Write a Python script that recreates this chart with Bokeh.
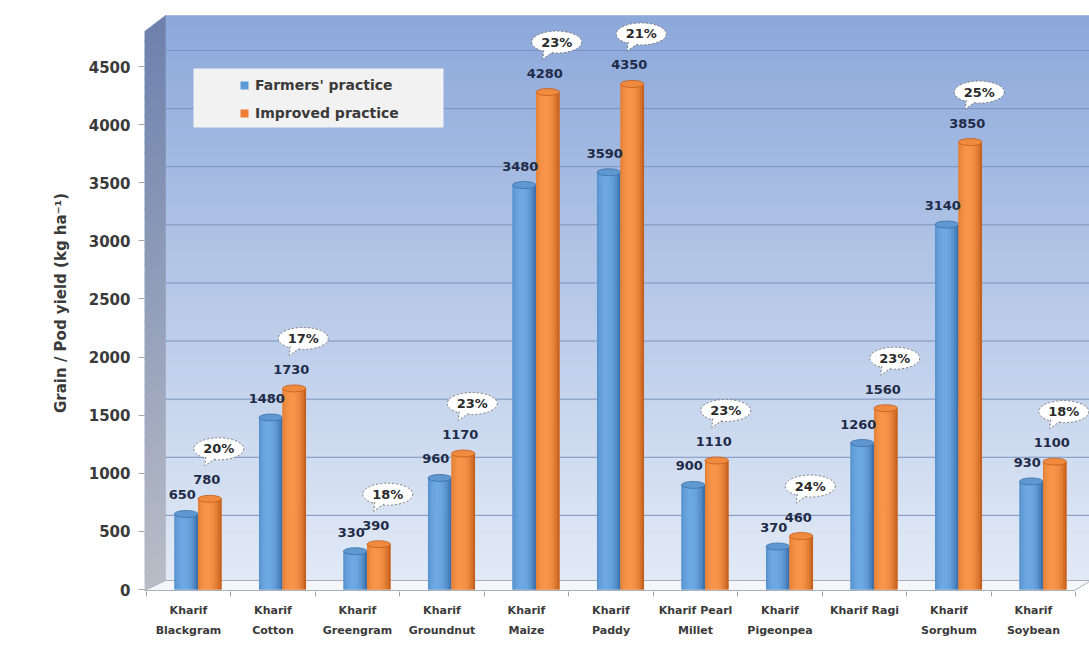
import math

from bokeh.plotting import figure
from bokeh.core.properties import value
from bokeh.models import FixedTicker, Legend, LegendItem, Range1d
from bokeh.embed import file_html
from bokeh.resources import INLINE

# ---------------------------------------------------------------- data
crops = [
    "Kharif\nBlackgram", "Kharif\nCotton", "Kharif\nGreengram", "Kharif\nGroundnut",
    "Kharif\nMaize", "Kharif\nPaddy", "Kharif Pearl\nMillet", "Kharif\nPigeonpea",
    "Kharif Ragi", "Kharif\nSorghum", "Kharif\nSoybean",
]
farmers_practice = [650, 1480, 330, 960, 3480, 3590, 900, 370, 1260, 3140, 930]
improved_practice = [780, 1730, 390, 1170, 4280, 4350, 1110, 460, 1560, 3850, 1100]
yield_gain_pct = [20, 17, 18, 23, 23, 21, 23, 24, 23, 25, 18]
y_ticks = [0, 500, 1000, 1500, 2000, 2500, 3000, 3500, 4000, 4500]

# ---------------------------------------------------------------- geometry
W, H = 1089, 669
F_LEFT, F_RIGHT, F_TOP, F_BOTTOM = 144, 1089, 14, 591   # frame in canvas px
X0_PX, Y0_PX = 188, 589                                 # where x=0 / y=0 fall
PX_X = 84.5                                             # px per category
PX_Y = 523 / 4500                                       # px per kg/ha


def dx(px):
    return px / PX_X


def dy(px):
    return px / PX_Y


def sx(px):
    return (px - X0_PX) / PX_X


def sy(px):
    return (Y0_PX - px) / PX_Y


def mix(c0, c1, t):
    return "#%02x%02x%02x" % tuple(round(a + (b - a) * t) for a, b in zip(c0, c1))


FONT = "DejaVu Sans"

p = figure(
    width=W, height=H,
    x_range=Range1d(sx(F_LEFT), sx(F_RIGHT)),
    y_range=Range1d(sy(F_BOTTOM), sy(F_TOP)),
    output_backend="svg", toolbar_location=None,
    min_border_left=F_LEFT, min_border_right=W - F_RIGHT,
    min_border_top=F_TOP, min_border_bottom=H - F_BOTTOM,
)
p.background_fill_color = "white"
p.border_fill_color = "white"
p.outline_line_color = None
p.xgrid.grid_line_color = None
p.ygrid.grid_line_color = None

# ---------------------------------------------------------------- 3D walls
# back wall: vertical gradient, dark blue at the top to pale blue at the floor
WALL_TOP, WALL_BOT, WALL_L = 15, 580, 165
nb = 60
overlap = dy(0.8)
top_c, bot_c = (0x8C, 0xA8, 0xDA), (0xE2, 0xEA, 0xF6)
bw_top, bw_bot, bw_col = [], [], []
for k in range(nb):
    y0 = WALL_TOP + (WALL_BOT - WALL_TOP) * k / nb
    y1 = WALL_TOP + (WALL_BOT - WALL_TOP) * (k + 1) / nb
    bw_top.append(sy(y0))
    bw_bot.append(sy(y1) - (overlap if k < nb - 1 else 0))
    c = mix(top_c, bot_c, (k + 0.5) / nb)
    bw_col.append(c)
p.quad(left=sx(WALL_L), right=sx(F_RIGHT), top=bw_top, bottom=bw_bot,
       fill_color=bw_col, line_color=bw_col, line_width=0.6)

# side wall: slanted panel on the left
side_xs, side_ys, side_col = [], [], []
s_top, s_bot = (0x6E, 0x82, 0xAE), (0xB8, 0xBC, 0xC6)
for k in range(nb):
    t0, t1 = k / nb, (k + 1) / nb
    fy0, fy1 = 31 + (590 - 31) * t0, 31 + (590 - 31) * t1
    by0, by1 = 15 + (580 - 15) * t0, 15 + (580 - 15) * t1
    ov = overlap if k < nb - 1 else 0
    side_xs.append([sx(F_LEFT), sx(WALL_L), sx(WALL_L), sx(F_LEFT)])
    side_ys.append([sy(fy0), sy(by0), sy(by1) - ov, sy(fy1) - ov])
    side_col.append(mix(s_top, s_bot, (k + 0.5) / nb))
p.patches(side_xs, side_ys, fill_color=side_col, line_color=side_col, line_width=0.6)

# back-wall gridlines (shifted up by the wall depth)
grid_y = [v + dy(16) for v in y_ticks[1:]]
p.multi_line(xs=[[sx(WALL_L), sx(F_RIGHT)] for _ in grid_y],
             ys=[[g, g] for g in grid_y], line_color="#7C93BE", line_width=1)

# floor
p.patch([sx(F_LEFT), sx(WALL_L), sx(F_RIGHT), sx(F_RIGHT), sx(1074)],
        [sy(590), sy(580), sy(580), sy(581), sy(590)],
        fill_color="#F4F6FA", line_color="#A9AEB8", line_width=1)

# ---------------------------------------------------------------- bars
bar_w = dx(23.5)
pair_shift = dx(9.5)
xb = [i + pair_shift - bar_w / 2 for i in range(len(crops))]
xo = [i + pair_shift + bar_w / 2 for i in range(len(crops))]


def cylinder(xs, values, base, dark, light, top_fill, top_line):
    body = p.vbar(x=xs, top=values, bottom=0, width=bar_w,
                  fill_color=base, line_color=None)
    ns = 12
    for k in range(ns):
        u = (k + 0.5) / ns * 2 - 1
        f = max(0.0, 1 - ((u + 0.2) / 1.2) ** 2)
        off = u * bar_w / 2
        p.vbar(x=[x + off for x in xs], top=values, bottom=0,
               width=bar_w / ns * 1.05, fill_color=mix(dark, light, f ** 0.8),
               line_color=None)
    p.ellipse(x=xs, y=values, width=bar_w, height=7, height_units="screen",
              fill_color=top_fill, line_color=top_line, line_width=0.8)
    return body


r_farm = cylinder(xb, farmers_practice, "#5B9BD5",
                  (0x2E, 0x62, 0x9E), (0x6E, 0xAA, 0xE4), "#5F98D0", "#3C70AA")
r_impr = cylinder(xo, improved_practice, "#ED7D31",
                  (0xB8, 0x55, 0x14), (0xF8, 0x97, 0x4A), "#F08A3E", "#C25E1C")

# ---------------------------------------------------------------- value labels
label_style = dict(text_font=value(FONT), text_font_style="bold",
                   text_font_size=value("13px"), text_color="#1F2B48",
                   text_align="center", text_baseline="middle")
p.text(x=xb, y=farmers_practice, text=[str(v) for v in farmers_practice],
       x_offset=-4, y_offset=-19, **label_style)
p.text(x=xo, y=improved_practice, text=[str(v) for v in improved_practice],
       x_offset=-3, y_offset=-19, **label_style)

# ---------------------------------------------------------------- % gain call-outs
bx = [x + dx(9) for x in xo]
by = [v + dy(50) for v in improved_practice]
p.ellipse(x=bx, y=by, width=50, height=22, width_units="screen", height_units="screen",
          fill_color="white", line_color="#7A7A7A", line_width=1, line_dash="2 2")
tail_xs = [[x + dx(-13), x + dx(-4), x + dx(-14)] for x in bx]
tail_ys = [[y - dy(8), y - dy(10), y - dy(17)] for y in by]
p.patches(tail_xs, tail_ys, fill_color="white", line_color=None)
p.multi_line(xs=[[t[0], t[2], t[1]] for t in tail_xs],
             ys=[[t[0], t[2], t[1]] for t in tail_ys],
             line_color="#7A7A7A", line_width=1, line_dash="2 2")
p.text(x=bx, y=by, text=[f"{v}%" for v in yield_gain_pct],
       text_font=value(FONT), text_font_style="bold", text_font_size=value("13px"),
       text_color="#2B2B2B", text_align="center", text_baseline="middle")

# ---------------------------------------------------------------- axes
p.yaxis.ticker = FixedTicker(ticks=y_ticks)
p.yaxis.axis_label = "Grain / Pod yield (kg ha\u207b\u00b9)"
p.yaxis.axis_label_text_font = FONT
p.yaxis.axis_label_text_font_style = "bold"
p.yaxis.axis_label_text_font_size = "15px"
p.yaxis.axis_label_text_color = "#3A3A3A"
p.yaxis.axis_label_standoff = 16
p.yaxis.major_label_text_font = FONT
p.yaxis.major_label_text_font_style = "bold"
p.yaxis.major_label_text_font_size = "15px"
p.yaxis.major_label_text_color = "#3A3A3A"
p.yaxis.major_label_standoff = 8
p.yaxis.axis_line_color = None
p.yaxis.major_tick_in = 0
p.yaxis.major_tick_out = 6
p.yaxis.major_tick_line_color = "#A6A6A6"
p.yaxis.minor_tick_line_color = None

p.xaxis.ticker = FixedTicker(ticks=list(range(len(crops))),
                             minor_ticks=[i - 0.5 for i in range(len(crops) + 1)])
p.xaxis.major_label_overrides = {i: c for i, c in enumerate(crops)}
p.xaxis.major_label_text_font = FONT
p.xaxis.major_label_text_font_style = "bold"
p.xaxis.major_label_text_font_size = "11px"
p.xaxis.major_label_text_color = "#3A3A3A"
p.xaxis.major_label_text_line_height = 1.55
p.xaxis.major_label_standoff = 7
p.xaxis.axis_line_color = None
p.xaxis.major_tick_line_color = None
p.xaxis.major_tick_out = 0
p.xaxis.major_tick_in = 0
p.xaxis.minor_tick_in = 0
p.xaxis.minor_tick_out = 5
p.xaxis.minor_tick_line_color = "#A6A6A6"

# ---------------------------------------------------------------- legend
p.quad(left=sx(193), right=sx(443), top=sy(68), bottom=sy(127),
       fill_color="#F2F2F2", line_color=None)
legend = Legend(
    items=[LegendItem(label="Farmers' practice", renderers=[r_farm]),
           LegendItem(label="Improved practice", renderers=[r_impr])],
    location=(244 - 5 - F_LEFT, F_BOTTOM - 123),
    background_fill_alpha=0, border_line_color=None,
    label_text_font=FONT, label_text_font_style="bold", label_text_font_size="14px",
    label_text_color="#3A3A3A", glyph_width=10, glyph_height=10,
    label_height=20, spacing=8, padding=5, margin=0, label_standoff=6,
)
p.add_layout(legend)

open("out.html", "w").write(file_html(p, INLINE))
